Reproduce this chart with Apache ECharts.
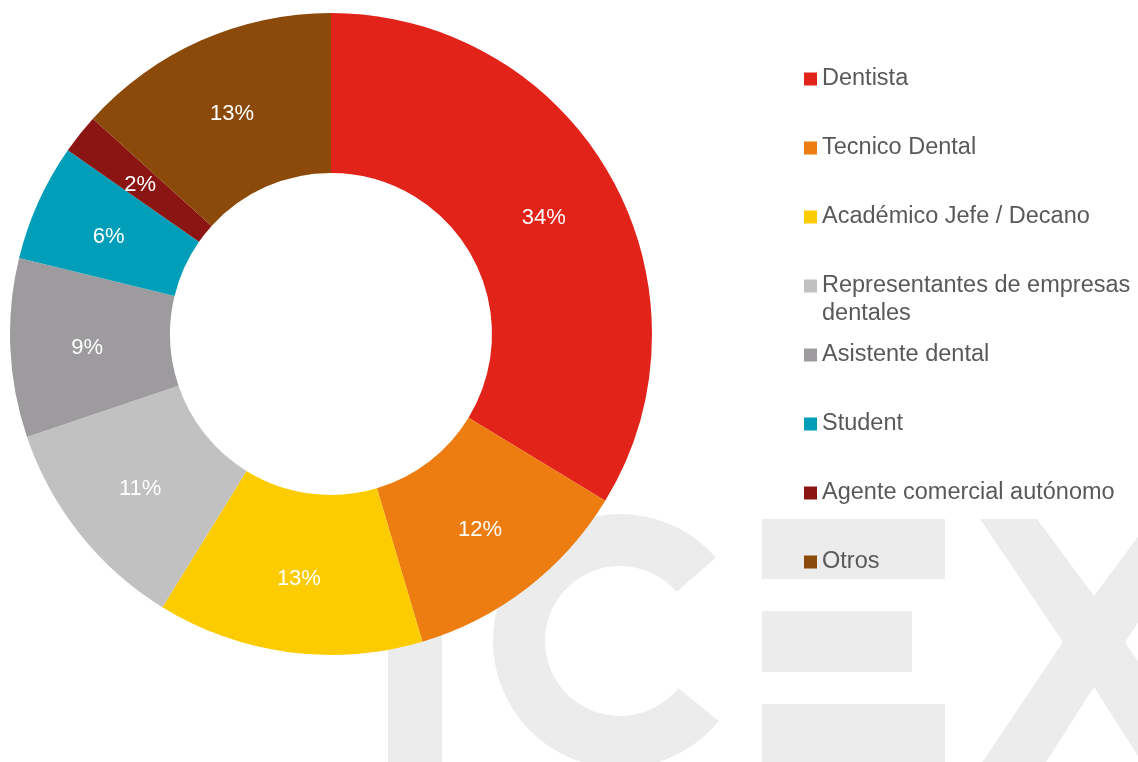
<!DOCTYPE html>
<html>
<head>
<meta charset="utf-8">
<script src="https://cdn.jsdelivr.net/npm/echarts@6/dist/echarts.min.js"></script>
<style>
html,body{margin:0;padding:0;background:#fff;}
#chart{width:1138px;height:762px;}
</style>
</head>
<body>
<div id="chart"></div>
<script>
const categories = ["Dentista", "Tecnico Dental", "Académico Jefe / Decano", "Representantes de empresas dentales", "Asistente dental", "Student", "Agente comercial autónomo", "Otros"];
const values = [33.7, 11.7, 13.4, 11.0, 9.0, 5.9, 2.0, 13.3];
const colors = ["#e2231a", "#ee7d11", "#fdcc00", "#c2c1c2", "#9d9b9e", "#009eb9", "#8b1513", "#8b4a0a"];
const legendCenters = [78, 147, 216, 285, 354, 423, 492, 561];

const FONT = "'Liberation Sans', Arial, sans-serif";
const WM = "#ececec";

const chart = echarts.init(document.getElementById('chart'), null, {renderer: 'canvas'});

const legends = categories.map((name, i) => {
  const wrapped = name === "Representantes de empresas dentales";
  return {
    data: [name],
    orient: 'vertical',
    left: 804,
    top: legendCenters[i] - 13,
    padding: 0,
    itemWidth: 13,
    itemHeight: wrapped ? 41 : 13,
    icon: wrapped ? 'path://M0,0h13v13h-13z M6.45,40.95h0.05v0.05h-0.05z' : 'rect',
    selectedMode: false,
    formatter: wrapped ? () => "Representantes de empresas\ndentales" : undefined,
    textStyle: {
      color: '#595959',
      fontSize: 23.5,
      fontFamily: FONT,
      lineHeight: 28,
      padding: [0, 0, 0, 0]
    }
  };
});

const DEG = Math.PI / 180;

const option = {
  animation: false,
  backgroundColor: '#ffffff',
  color: colors,
  legend: legends,
  graphic: {
    elements: [
      {type: 'rect', z: 0, shape: {x: 388, y: 519, width: 54, height: 250}, style: {fill: WM}},
      {type: 'sector', z: 0, shape: {cx: 620, cy: 641, r: 127, r0: 75, startAngle: 39 * DEG, endAngle: 319 * DEG, clockwise: true},
        style: {fill: WM}},
      {type: 'rect', z: 0, shape: {x: 762, y: 519, width: 183, height: 60}, style: {fill: WM}},
      {type: 'rect', z: 0, shape: {x: 762, y: 611, width: 150, height: 61}, style: {fill: WM}},
      {type: 'rect', z: 0, shape: {x: 762, y: 704, width: 183, height: 70}, style: {fill: WM}},
      {type: 'polygon', z: 0, shape: {points: [[980,519],[1037,519],[1094,596],[1151,519],[1208,519],[1125,642],[1210,770],[1147,770],[1094,687],[1041,770],[977,770],[1063,642]]},
        style: {fill: WM}}
    ]
  },
  series: [{
    type: 'pie',
    z: 2,
    center: [331, 334],
    radius: [161, 321],
    startAngle: 90,
    clockwise: true,
    avoidLabelOverlap: false,
    emphasis: {disabled: true},
    itemStyle: {borderWidth: 0},
    label: {
      show: true,
      position: 'inside',
      formatter: p => Math.round(p.value) + '%',
      color: '#ffffff',
      fontSize: 22,
      fontFamily: FONT,
      offset: [0, 3]
    },
    labelLine: {show: false},
    data: categories.map((n, i) => ({name: n, value: values[i], itemStyle: {color: colors[i]}}))
  }]
};
chart.setOption(option);
</script>
</body>
</html>
